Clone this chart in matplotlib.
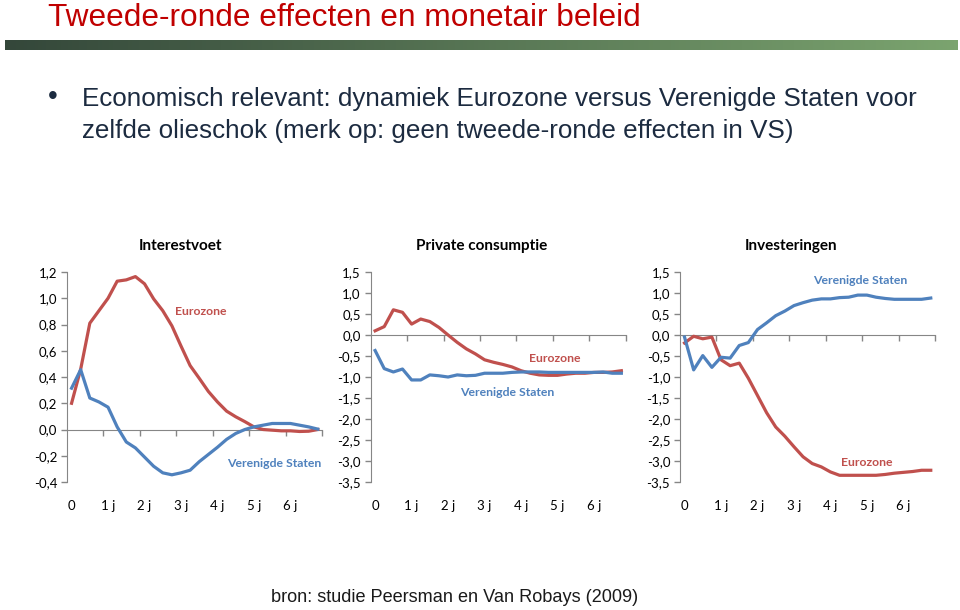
import numpy as np
import matplotlib
matplotlib.use("Agg")
import matplotlib.pyplot as plt

RED = "#C0504D"
BLUE = "#4F81BD"
GRAY = "#868686"

# kwartalen 0..27
quarters = list(range(28))
tick_labels = ["0", "1 j", "2 j", "3 j", "4 j", "5 j", "6 j"]

rente_ez = [0.20, 0.46, 0.81, 0.905, 1.00, 1.13, 1.14, 1.165, 1.11, 0.995,
            0.905, 0.79, 0.636, 0.487, 0.39, 0.29, 0.21, 0.14, 0.097, 0.06,
            0.02, 0.0, -0.005, -0.01, -0.01, -0.015, -0.013, 0.0]
rente_vs = [0.315, 0.456, 0.24, 0.21, 0.17, 0.02, -0.095, -0.14, -0.21, -0.28,
            -0.33, -0.345, -0.33, -0.31, -0.245, -0.19, -0.135, -0.075, -0.03, 0.0,
            0.02, 0.033, 0.046, 0.046, 0.046, 0.033, 0.02, 0.003]

cons_ez = [0.10, 0.20, 0.60, 0.54, 0.26, 0.38, 0.32, 0.18, 0.0, -0.175,
           -0.33, -0.45, -0.59, -0.65, -0.70, -0.76, -0.85, -0.91, -0.95, -0.96,
           -0.96, -0.93, -0.91, -0.91, -0.89, -0.89, -0.88, -0.85]
cons_vs = [-0.37, -0.80, -0.88, -0.81, -1.07, -1.07, -0.95, -0.97, -1.0, -0.95,
           -0.97, -0.96, -0.91, -0.91, -0.91, -0.89, -0.88, -0.88, -0.88, -0.89,
           -0.89, -0.89, -0.89, -0.89, -0.89, -0.88, -0.91, -0.91]

inv_ez = [-0.19, -0.03, -0.09, -0.05, -0.59, -0.73, -0.67, -1.03, -1.44, -1.85,
          -2.19, -2.41, -2.66, -2.90, -3.06, -3.14, -3.26, -3.34, -3.34, -3.34,
          -3.34, -3.34, -3.32, -3.29, -3.27, -3.25, -3.22, -3.22]
inv_vs = [-0.05, -0.83, -0.49, -0.77, -0.53, -0.55, -0.25, -0.18, 0.13, 0.29,
          0.46, 0.57, 0.70, 0.77, 0.83, 0.86, 0.86, 0.89, 0.90, 0.95,
          0.95, 0.90, 0.87, 0.85, 0.85, 0.85, 0.85, 0.88]

panels = [
    ("Interestvoet", rente_ez, rente_vs, (-0.4, 1.2), 0.2,
     [(14.2, 0.90, "Eurozone", RED), (22.2, -0.26, "Verenigde Staten", BLUE)], 0.0698, 0.188),
    ("Private consumptie", cons_ez, cons_vs, (-3.5, 1.5), 0.5,
     [(19.7, -0.55, "Eurozone", RED), (14.5, -1.36, "Verenigde Staten", BLUE)], 0.386, 0.502),
    ("Investeringen", inv_ez, inv_vs, (-3.5, 1.5), 0.5,
     [(20.0, -3.03, "Eurozone", RED), (19.3, 1.30, "Verenigde Staten", BLUE)], 0.7083, 0.824),
]

fig = plt.figure(figsize=(9.6, 6.1), dpi=100)

# titel + groene balk
fig.text(0.05, 0.957, "Tweede-ronde effecten en monetair beleid", color="#C00000",
         fontsize=22.8, family="Liberation Sans", va="baseline")
bar = fig.add_axes([0.005, 0.918, 0.992, 0.016])
bar.imshow(np.linspace(0, 1, 256).reshape(1, -1), aspect="auto",
           cmap=matplotlib.colors.LinearSegmentedColormap.from_list("g", ["#34473a", "#7ba46f"]))
bar.axis("off")

TXT = "#1c2b40"
fig.text(0.050, 0.829, "\u2022", color=TXT, fontsize=20, family="Liberation Sans", va="baseline")
fig.text(0.085, 0.826, "Economisch relevant: dynamiek Eurozone versus Verenigde Staten voor",
         color=TXT, fontsize=18.7, family="Liberation Sans", va="baseline")
fig.text(0.085, 0.774, "zelfde olieschok (merk op: geen tweede-ronde effecten in VS)",
         color=TXT, fontsize=18.7, family="Liberation Sans", va="baseline")

for title, ez, vs, ylim, step, notes, left, tx in panels:
    ax = fig.add_axes([left, 0.2098, 0.266, 0.3443])
    ax.plot(quarters, ez, color=RED, lw=2.3, solid_joinstyle="round", zorder=3)
    ax.plot(quarters, vs, color=BLUE, lw=2.3, solid_joinstyle="round", zorder=3)
    ax.set_xlim(-0.5, 27.5)
    ax.set_ylim(*ylim)
    yt = np.arange(ylim[0], ylim[1] + step / 2, step)
    ax.set_yticks(yt)
    ax.set_yticklabels([f"{v:.1f}".replace(".", ",").replace("-0,0", "0,0") for v in yt],
                       family="Lato", fontsize=9.5)
    for s in ["top", "right"]:
        ax.spines[s].set_visible(False)
    ax.spines["left"].set_color(GRAY)
    ax.spines["bottom"].set_color(GRAY)
    ax.spines["bottom"].set_position(("data", 0))
    ax.set_xticks(np.arange(3.5, 28, 4))
    ax.set_xticklabels([])
    ax.tick_params(axis="both", color=GRAY, length=4, width=1, direction="out")
    ax.tick_params(axis="y", pad=3)
    sec = ax.secondary_xaxis(0)
    sec.set_xticks(range(0, 25, 4))
    sec.set_xticklabels(tick_labels, family="Lato", fontsize=9.5)
    sec.tick_params(length=0, pad=13)
    sec.spines["bottom"].set_visible(False)
    for x, y, txt, c in notes:
        ax.text(x, y, txt, color=c, fontsize=8.8, family="Lato", fontweight="bold",
                ha="center", va="center")
    fig.text(tx, 0.597, title, fontsize=11, family="Lato", fontweight="bold", ha="center", va="center")

fig.text(0.474, 0.013, "bron: studie Peersman en Van Robays (2009)", color="#1a1a1a",
         fontsize=13.1, family="Liberation Sans", ha="center", va="baseline")

fig.savefig("out.png", dpi=100)
